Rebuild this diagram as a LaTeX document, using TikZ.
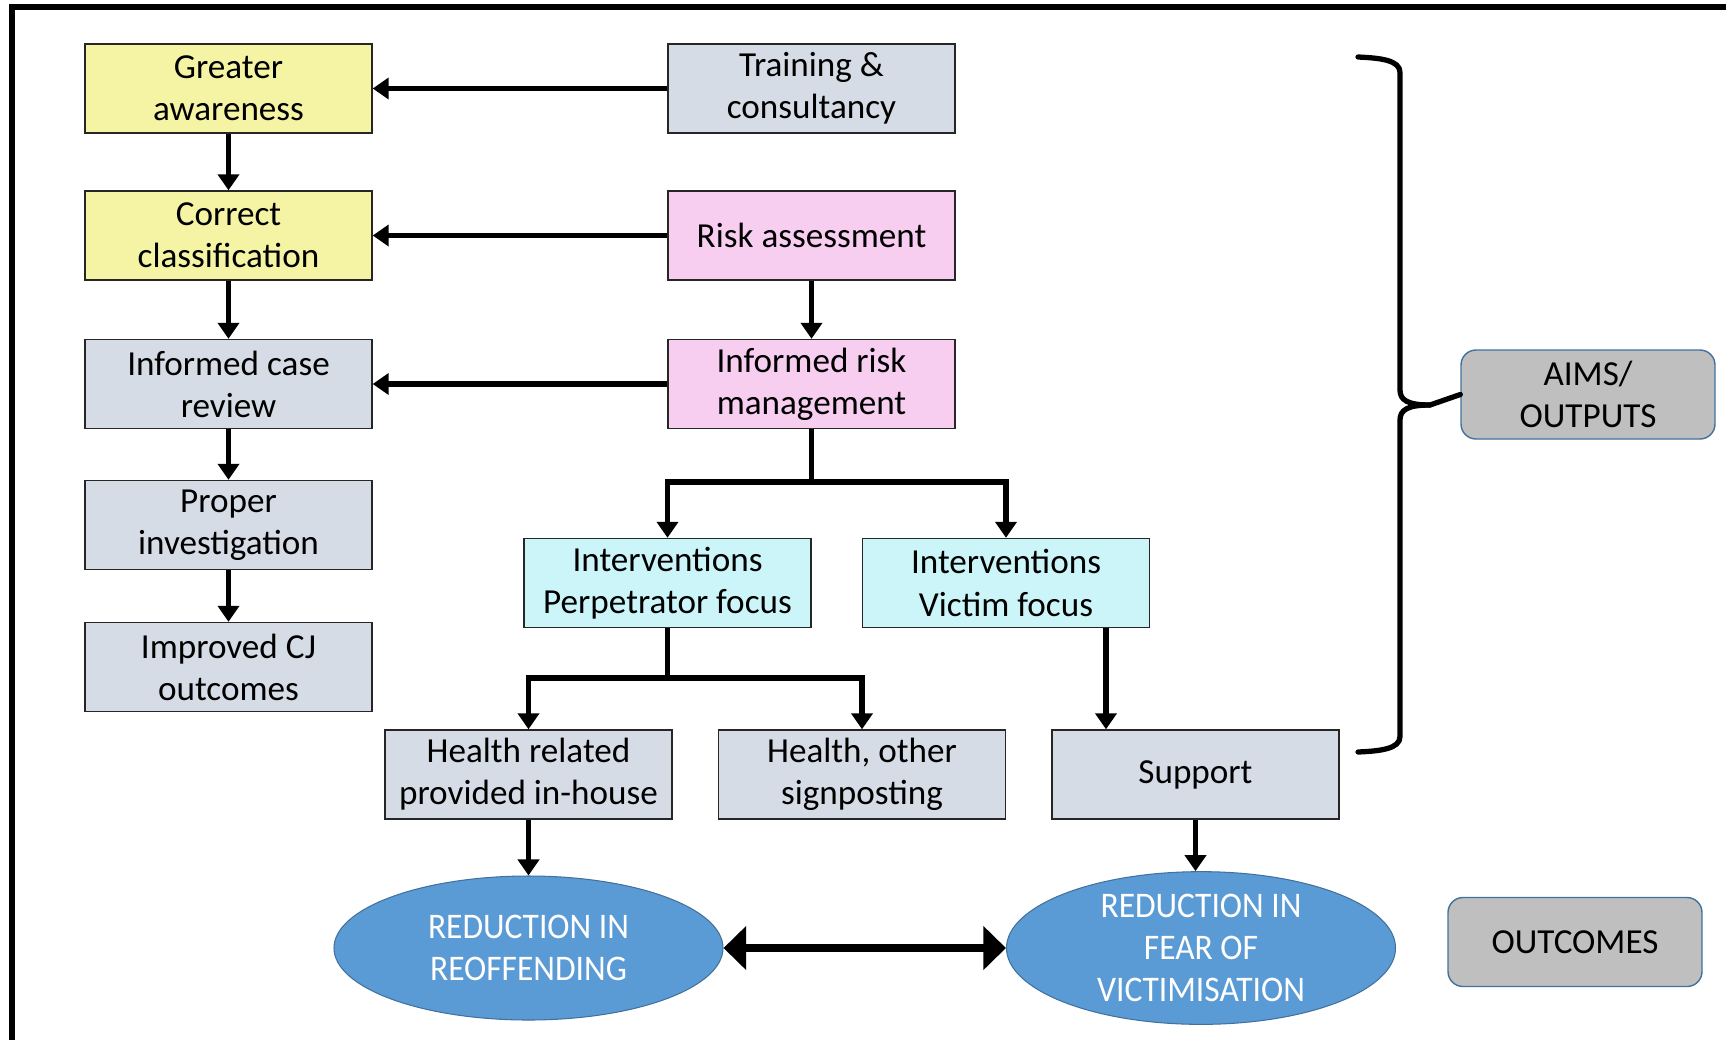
\documentclass[tikz,border=0pt]{standalone}
\usepackage{fontspec}
\setmainfont{Carlito}
\newfontfamily\narrowfont[FakeStretch=0.93]{Carlito}
\usetikzlibrary{arrows.meta,shapes.geometric}
\definecolor{awarefill}{HTML}{F4F4A4}
\definecolor{greyfill}{HTML}{D6DCE5}
\definecolor{pinkfill}{HTML}{F7CDF0}
\definecolor{cyanfill}{HTML}{CBF5F9}
\definecolor{outfill}{HTML}{5B9BD5}
\definecolor{outline}{HTML}{41719C}
\definecolor{tagfill}{HTML}{BFBFBF}
\begin{document}
\begin{tikzpicture}[
    box/.style={draw=black!85, line width=0.8pt, minimum width=5.74cm,
      minimum height=1.78cm, inner sep=0pt, align=center,
      font=\fontsize{20}{24}\selectfont},
    outcome/.style={ellipse, draw=outline, line width=0.6pt, fill=outfill,
      minimum width=7.78cm, minimum height=2.88cm, inner sep=0pt,
      align=center, text=white, font=\narrowfont\fontsize{20.5}{24}\selectfont},
    tag/.style={draw=outline, line width=0.8pt, fill=tagfill, rounded corners=0.3cm,
      minimum width=5.08cm, minimum height=1.78cm, inner sep=0pt, align=center,
      font=\fontsize{20}{24}\selectfont},
    arr/.style={line width=3.2pt, -{Triangle[length=0.32cm, width=0.42cm]}},
    link/.style={line width=3.2pt},
    bigarr/.style={line width=5pt,
      {Triangle[length=0.45cm, width=0.85cm]}-{Triangle[length=0.45cm, width=0.85cm]}}
  ]
  \useasboundingbox (0,0) rectangle (34.52,-20.8);
  %% frame, cut off on the right and at the bottom
  \draw[line width=3pt] (34.52,-0.14) -- (0.24,-0.14) -- (0.24,-20.8);

  %% left column
  \node[box, fill=awarefill] (aware)   at (4.57,-1.77)  {Greater\\awareness};
  \node[box, fill=awarefill] (classif) at (4.57,-4.71)  {Correct\\classification};
  \node[box, fill=greyfill]  (review)  at (4.57,-7.68)  {Informed case\\review};
  \node[box, fill=greyfill]  (invest)  at (4.57,-10.5)  {Proper\\investigation};
  \node[box, fill=greyfill]  (cjout)   at (4.57,-13.34) {Improved CJ\\outcomes};

  %% middle column
  \node[box, fill=greyfill] (train)    at (16.23,-1.77) {Training \&\\consultancy};
  \node[box, fill=pinkfill] (riskass)  at (16.23,-4.71) {Risk assessment};
  \node[box, fill=pinkfill] (riskmgmt) at (16.23,-7.68) {Informed risk\\management};

  %% interventions and services
  \node[box, fill=cyanfill] (perp)    at (13.35,-11.66) {Interventions\\Perpetrator focus};
  \node[box, fill=cyanfill] (victim)  at (20.12,-11.66) {Interventions\\Victim focus};
  \node[box, fill=greyfill] (inhouse) at (10.57,-15.49) {Health related\\provided in-house};
  \node[box, fill=greyfill] (signpost) at (17.24,-15.49) {Health, other\\signposting};
  \node[box, fill=greyfill] (support) at (23.91,-15.49) {Support};

  %% outcomes
  \node[outcome] (reoff) at (10.57,-18.96) {REDUCTION IN\\REOFFENDING};
  \node[outcome] (fear)  at (24.02,-18.96) {REDUCTION IN\\FEAR OF\\VICTIMISATION};

  %% side tags
  \node[tag] (aims)     at (31.76,-7.89)  {AIMS/\\OUTPUTS};
  \node[tag] (outcomes) at (31.5,-18.84)  {OUTCOMES};

  %% connectors
  \draw[arr] (train) -- (aware);
  \draw[arr] (riskass) -- (classif);
  \draw[arr] (riskmgmt) -- (review);
  \draw[arr] (aware) -- (classif);
  \draw[arr] (classif) -- (review);
  \draw[arr] (review) -- (invest);
  \draw[arr] (invest) -- (cjout);
  \draw[arr] (riskass) -- (riskmgmt);

  \coordinate (split1) at (16.23,-9.64);
  \coordinate (split2) at (13.35,-13.56);
  \coordinate (vdrop)  at (22.12,-12.6);
  \draw[link] (riskmgmt.south) -- (split1);
  \draw[arr] (split1) -| (perp.north);
  \draw[arr] (split1) -| (victim.north);
  \draw[link] (perp.south) -- (split2);
  \draw[arr] (split2) -| (inhouse.north);
  \draw[arr] (split2) -| (signpost.north);
  \draw[arr] (victim.south -| vdrop) -- (vdrop |- support.north);
  \draw[arr] (inhouse) -- (reoff);
  \draw[arr] (support.south) -- (support.south |- fear.north);
  \draw[bigarr] (reoff) -- (fear);

  %% brace round the aims
  \draw[line width=3pt, line cap=round]
    (27.16,-1.14) .. controls (27.6,-1.16) and (28.0,-1.2) .. (28.0,-1.45)
    -- (28.0,-7.8) .. controls (28.0,-8.0) and (28.15,-8.1) .. (28.6,-8.1)
    -- (aims.west);
  \draw[line width=3pt, line cap=round]
    (27.16,-15.04) .. controls (27.6,-15.02) and (28.0,-14.98) .. (28.0,-14.73)
    -- (28.0,-8.4) .. controls (28.0,-8.2) and (28.15,-8.1) .. (28.6,-8.1);
\end{tikzpicture}
\end{document}
